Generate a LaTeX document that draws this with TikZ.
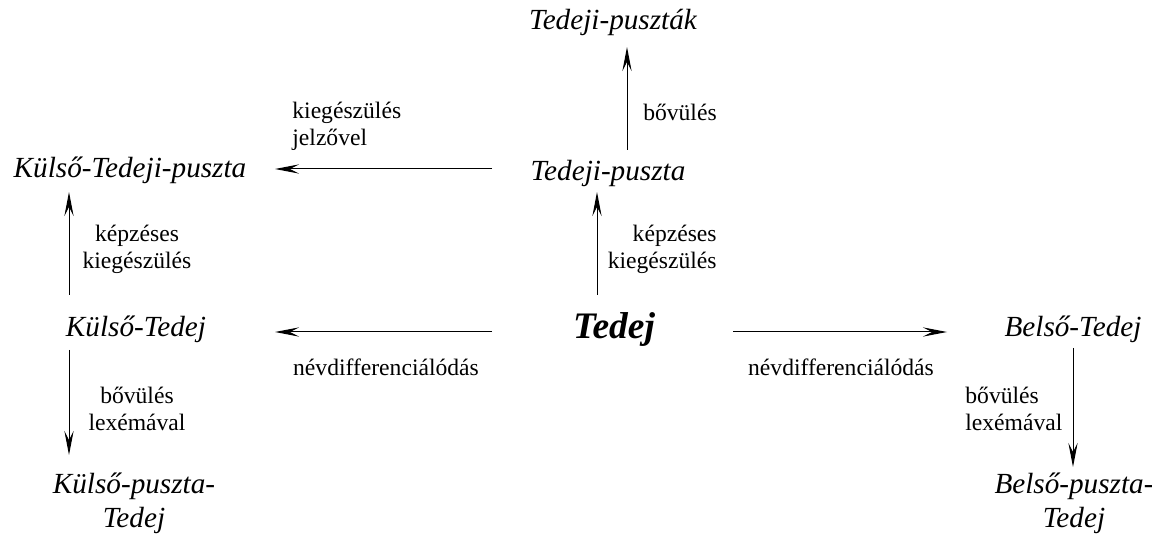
\documentclass[tikz,border=0pt]{standalone}
\usepackage{fontspec}
\setmainfont{Liberation Serif}
\usetikzlibrary{arrows.meta}

\begin{document}
\begin{tikzpicture}[
  x=0.5pt, y=-0.5pt,
  every node/.style={inner sep=0pt},
  place/.style={font=\fontsize{14.6}{17}\selectfont\itshape, anchor=base},
  root/.style={font=\fontsize{18.7}{22}\selectfont\bfseries\itshape, anchor=base},
  note/.style={font=\fontsize{11.8}{13.5}\selectfont},
  link/.style={draw, line width=0.5pt, -{Stealth[length=12pt,width=4.6pt,inset=4.5pt]}}
]
\useasboundingbox (0,0) rectangle (1152,534);
% names
\node [root] (tedej) at (614,339) {Tedej};
\node [place] (tp) at (608,181) {Tedeji-puszta};
\node [place] (tps) at (613,30) {Tedeji-puszták};
\node [place] (ktp) at (130,178) {Külső-Tedeji-puszta};
\node [place] (kt) at (136,337) {Külső-Tedej};
\node [place] (bt) at (1073,337) {Belső-Tedej};
\node [place, anchor=center, align=center] (kpt) at (134,503) {Külső-puszta-\\Tedej};
\node [place, anchor=center, align=center] (bpt) at (1074,503) {Belső-puszta-\\Tedej};
% labels
\node [note, anchor=base] (lbov) at (680,121) {bővülés};
\node [note, anchor=west, align=left] (ljel) at (292,126) {kiegészülés\\jelzővel};
\node [note, anchor=east, align=right] (lkep) at (717,249) {képzéses\\kiegészülés};
\node [note, align=center] (lkepk) at (137,249) {képzéses\\kiegészülés};
\node [note, anchor=base] (lnevk) at (386,376) {névdifferenciálódás};
\node [note, anchor=base] (lnevb) at (841,376) {névdifferenciálódás};
\node [note, align=center] (llexk) at (137,409) {bővülés\\lexémával};
\node [note, anchor=west, align=left] (llexb) at (965,409) {bővülés\\lexémával};
% arrows
\draw [link] ([shift={(-17,-44)}]tedej.base) -- ([shift={(-11,11)}]tp.base);
\draw [link] ([shift={(19,-31)}]tp.base) -- ([shift={(14,17)}]tps.base);
\draw [link] ([shift={(-116,-12)}]tp.base) -- ([shift={(145,-9)}]ktp.base);
\draw [link] ([shift={(-67,-42)}]kt.base) -- ([shift={(-61,14)}]ktp.base);
\draw [link] ([shift={(-122,-7)}]tedej.base) -- ([shift={(139,-5)}]kt.base);
\draw [link] ([shift={(119,-7)}]tedej.base) -- ([shift={(-126,-5)}]bt.base);
\draw [link] ([shift={(-67,13)}]kt.base) -- ([shift={(-65,-48)}]kpt.center);
\draw [link] ([shift={(0,11)}]bt.base) -- ([shift={(-1,-36)}]bpt.center);
\end{tikzpicture}
\end{document}
